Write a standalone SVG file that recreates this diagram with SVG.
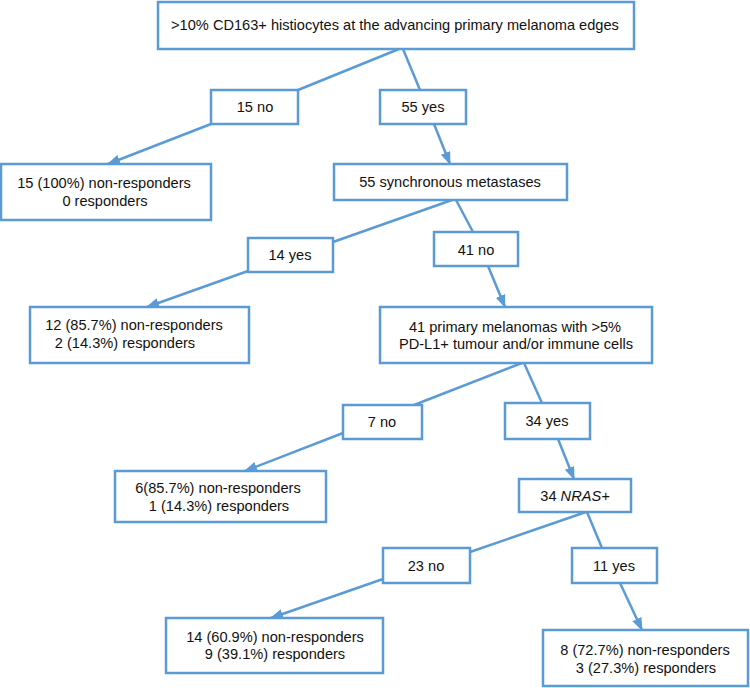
<svg xmlns="http://www.w3.org/2000/svg" width="750" height="688" viewBox="0 0 750 688">
<style>
.box{fill:#fff;stroke:#5B9BD5;stroke-width:2.5}
.t{font-family:"Liberation Sans",Arial,sans-serif;font-size:14.6px;fill:#111;text-anchor:middle}
.c{stroke:#5B9BD5;stroke-width:2.5;fill:none}
</style>
<defs>
<marker id="ah" markerUnits="userSpaceOnUse" markerWidth="14" markerHeight="12" refX="12" refY="5" orient="auto">
<path d="M0,0 L13,5 L0,10 Z" fill="#5B9BD5"/>
</marker>
</defs>
<g id="connectors">
<line class="c" x1="399" y1="49" x2="298" y2="90"/>
<line class="c" x1="403" y1="49" x2="420" y2="90"/>
<line class="c" x1="211" y1="124" x2="108" y2="164" marker-end="url(#ah)"/>
<line class="c" x1="434" y1="124" x2="450" y2="164" marker-end="url(#ah)"/>
<line class="c" x1="452" y1="200" x2="333" y2="242"/>
<line class="c" x1="456" y1="200" x2="473" y2="232"/>
<line class="c" x1="248" y1="271" x2="147" y2="307" marker-end="url(#ah)"/>
<line class="c" x1="488" y1="266" x2="505" y2="307" marker-end="url(#ah)"/>
<line class="c" x1="522" y1="363" x2="414" y2="405"/>
<line class="c" x1="524" y1="363" x2="542" y2="403"/>
<line class="c" x1="343" y1="433" x2="245" y2="471" marker-end="url(#ah)"/>
<line class="c" x1="558" y1="439" x2="574" y2="479" marker-end="url(#ah)"/>
<line class="c" x1="586" y1="512" x2="470" y2="552"/>
<line class="c" x1="587" y1="512" x2="602" y2="548"/>
<line class="c" x1="383" y1="579" x2="271" y2="618" marker-end="url(#ah)"/>
<line class="c" x1="620" y1="583" x2="642" y2="630" marker-end="url(#ah)"/>
</g>
<g id="root">
<rect class="box" x="158" y="2" width="476" height="47"/>
<text class="t" x="395" y="30">&gt;10% CD163+ histiocytes at the advancing primary melanoma edges</text>
</g>
<g id="no15">
<rect class="box" x="211" y="90" width="87" height="34"/>
<text class="t" x="255" y="112">15 no</text>
</g>
<g id="yes55">
<rect class="box" x="380" y="90" width="86" height="34"/>
<text class="t" x="423" y="112">55 yes</text>
</g>
<g id="res15">
<rect class="box" x="1" y="164" width="210" height="56"/>
<text class="t" x="104" y="188">15 (100%) non-responders</text>
<text class="t" x="105" y="206">0 responders</text>
</g>
<g id="sync55">
<rect class="box" x="334" y="164" width="233" height="36"/>
<text class="t" x="450" y="187">55 synchronous metastases</text>
</g>
<g id="yes14">
<rect class="box" x="248" y="238" width="85" height="34"/>
<text class="t" x="290" y="260">14 yes</text>
</g>
<g id="no41">
<rect class="box" x="434" y="232" width="84" height="34"/>
<text class="t" x="476" y="255">41 no</text>
</g>
<g id="res14">
<rect class="box" x="30" y="307" width="219" height="56"/>
<text class="t" x="134" y="330">12 (85.7%) non-responders</text>
<text class="t" x="125" y="348">2 (14.3%) responders</text>
</g>
<g id="pdl1">
<rect class="box" x="380" y="307" width="272" height="56"/>
<text class="t" x="515" y="332">41 primary melanomas with &gt;5%</text>
<text class="t" x="516" y="349">PD-L1+ tumour and/or immune cells</text>
</g>
<g id="no7">
<rect class="box" x="343" y="405" width="79" height="34"/>
<text class="t" x="382" y="427">7 no</text>
</g>
<g id="yes34">
<rect class="box" x="505" y="403" width="85" height="36"/>
<text class="t" x="547" y="426">34 yes</text>
</g>
<g id="res7">
<rect class="box" x="115" y="471" width="211" height="51"/>
<text class="t" x="218" y="493">6(85.7%) non-responders</text>
<text class="t" x="219" y="511">1 (14.3%) responders</text>
</g>
<g id="nras">
<rect class="box" x="519" y="479" width="112" height="33"/>
<text class="t" x="575" y="501">34 <tspan font-style="italic">NRAS+</tspan></text>
</g>
<g id="no23">
<rect class="box" x="383" y="548" width="87" height="35"/>
<text class="t" x="426" y="571">23 no</text>
</g>
<g id="yes11">
<rect class="box" x="572" y="548" width="85" height="35"/>
<text class="t" x="614" y="571">11 yes</text>
</g>
<g id="res14b">
<rect class="box" x="166" y="618" width="217" height="55"/>
<text class="t" x="275" y="642">14 (60.9%) non-responders</text>
<text class="t" x="275" y="659">9 (39.1%) responders</text>
</g>
<g id="res11">
<rect class="box" x="543" y="630" width="205" height="56"/>
<text class="t" x="645" y="655">8 (72.7%) non-responders</text>
<text class="t" x="646" y="673">3 (27.3%) responders</text>
</g>
</svg>
